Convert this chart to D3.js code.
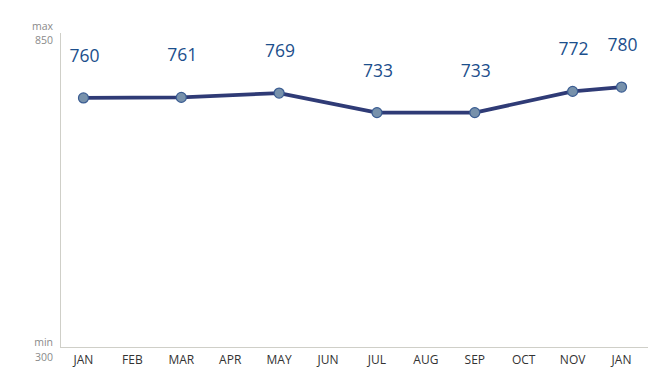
<!DOCTYPE html>
<html><head><meta charset="utf-8">
<script src="https://cdn.jsdelivr.net/npm/d3@7"></script>
<style>body{margin:0;background:#fff}svg{display:block}</style>
</head><body>
<script>
const categories = ["JAN","FEB","MAR","APR","MAY","JUN","JUL","AUG","SEP","OCT","NOV","JAN "];
const pointCats = ["JAN","MAR","MAY","JUL","SEP","NOV","JAN "];
const values = [760, 761, 769, 733, 733, 772, 780];
const yMin = 300, yMax = 850;

const W = 668, H = 369;
const svg = d3.select("body").append("svg").attr("width", W).attr("height", H)
  .style("font-family", "'Open Sans', sans-serif");

const x = d3.scaleBand().domain(categories).range([59, 646]);
const y = d3.scaleLinear().domain([yMin, yMax]).range([348, 49]);
const cx = d => x(d) + x.bandwidth() / 2;

// axes lines
svg.append("line").attr("x1", 60.5).attr("x2", 60.5).attr("y1", 33).attr("y2", 348)
  .attr("stroke", "#cfcfc8").attr("stroke-width", 1);
svg.append("line").attr("x1", 60).attr("x2", 648).attr("y1", 347.5).attr("y2", 347.5)
  .attr("stroke", "#cfcfc8").attr("stroke-width", 1);

// x tick labels
const xAxis = d3.axisBottom(x).tickSize(0).tickPadding(0).tickFormat(d => d.trim());
const gx = svg.append("g").attr("transform", "translate(0,355)").call(xAxis);
gx.select(".domain").remove();
gx.selectAll("text").attr("font-size", 12).attr("fill", "#333")
  .attr("font-family", "'Open Sans', sans-serif").attr("dy", "0.78em");

// min/max labels
const grey = "#8a8a8a";
[["max", 29.5], [String(yMax), 44], ["min", 346], [String(yMin), 360.5]].forEach(([s, yy]) => {
  svg.append("text").attr("x", 53).attr("y", yy).attr("text-anchor", "end")
    .attr("font-size", 10.5).attr("fill", grey).text(s);
});

const data = pointCats.map((c, i) => ({c, v: values[i]}));

svg.append("path").datum(data)
  .attr("d", d3.line().x(d => cx(d.c)).y(d => y(d.v)))
  .attr("fill", "none").attr("stroke", "#2f3b76").attr("stroke-width", 3.8)
  .attr("stroke-linejoin", "round");

svg.selectAll("circle.pt").data(data).join("circle")
  .attr("cx", d => cx(d.c)).attr("cy", d => y(d.v)).attr("r", 5)
  .attr("fill", "#7791ab").attr("stroke", "#3a5c92").attr("stroke-width", 1.2);

svg.selectAll("text.val").data(data).join("text").attr("class", "val")
  .attr("x", d => cx(d.c) + 1).attr("y", d => y(d.v) - 36)
  .attr("text-anchor", "middle").attr("font-size", 17.5).attr("fill", "#1c4f8c")
  .text(d => d.v);
</script>
</body></html>
